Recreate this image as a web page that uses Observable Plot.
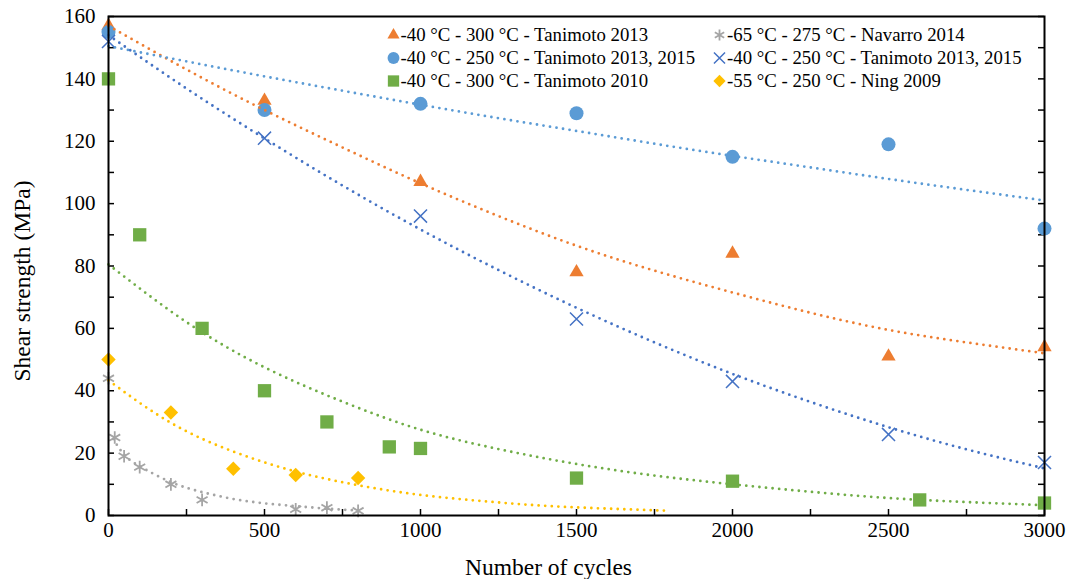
<!DOCTYPE html>
<html><head><meta charset="utf-8">
<script src="https://cdn.jsdelivr.net/npm/d3@7"></script>
<script src="https://cdn.jsdelivr.net/npm/@observablehq/plot@0.6"></script>
</head><body><div id="wrap"></div>
<script>
// ---- series definitions ----
const seriesNames = [
  "-40 °C - 300 °C - Tanimoto 2013",
  "-65 °C - 275 °C - Navarro 2014",
  "-40 °C - 250 °C - Tanimoto 2013, 2015",
  "-40 °C - 250 °C - Tanimoto 2013, 2015",
  "-40 °C - 300 °C - Tanimoto 2010",
  "-55 °C - 250 °C - Ning 2009"
];
const seriesColors = ["#ED7D31", "#A5A5A5", "#5B9BD5", "#4472C4", "#70AD47", "#FFC000"];
const seriesSymbols = ["triangle", "asterisk", "circle", "times", "square", "diamond2"];
const xTitle = "Number of cycles";
const yTitle = "Shear strength (MPa)";

// ---- data points ----
const triCycles = [0, 500, 1000, 1500, 2000, 2500, 3000];
const triStrength = [157, 133, 107, 78, 84, 51, 54];
const starCycles = [0, 20, 50, 100, 200, 300, 600, 700, 800];
const starStrength = [44, 25, 19, 15.5, 10, 5, 2, 2.5, 1.5];
const circCycles = [0, 500, 1000, 1500, 2000, 2500, 3000];
const circStrength = [155, 130, 132, 129, 115, 119, 92];
const crossCycles = [0, 500, 1000, 1500, 2000, 2500, 3000];
const crossStrength = [152, 121, 96, 63, 43, 26, 17];
const sqCycles = [0, 100, 300, 500, 700, 900, 1000, 1500, 2000, 2600, 3000];
const sqStrength = [140, 90, 60, 40, 30, 22, 21.5, 12, 11, 5, 4];
const diaCycles = [0, 200, 400, 600, 800];
const diaStrength = [50, 33, 15, 13, 12];

// ---- trend lines ----
const trendCyclesLong = [0, 250, 500, 750, 1000, 1250, 1500, 1750, 2000, 2250, 2500, 2750, 3000];
const triTrend = [157, 143, 130, 118, 106.5, 96, 86.5, 78.5, 71.5, 65, 59.5, 55.5, 52];
const circTrend = [150.5, 145.6, 140.8, 136.2, 131.7, 127.4, 123.3, 119.2, 115.3, 111.6, 107.9, 104.4, 101.0];
const crossTrend = [154, 136.9, 120.9, 105.8, 91.7, 78.7, 66.6, 55.5, 45.4, 36.4, 28.3, 21.2, 15.1];
const sqTrend = [80.5, 62, 47.5, 36.5, 27.5, 21.3, 16.5, 12.8, 10, 7.6, 5.6, 4.3, 3.3];
const diaTrendCycles = [0, 200, 400, 600, 800, 1000, 1200, 1400, 1600, 1800];
const diaTrend = [43.3, 29.7, 20.5, 14.1, 9.7, 6.6, 4.6, 3.1, 2.2, 1.5];
const starTrendCycles = [15, 50, 100, 200, 300, 400, 500, 600, 700, 800];
const starTrend = [24.5, 19.5, 15.8, 10.7, 7.5, 5.3, 3.9, 3.0, 2.2, 1.6];

// ---- axes ----
const xMajor = [0, 500, 1000, 1500, 2000, 2500, 3000];
const xMinor = d3.range(0, 3001, 250);
const yMajor = [0, 20, 40, 60, 80, 100, 120, 140, 160];
const yMinor = d3.range(0, 161, 10);

const pointSets = [
  [triCycles, triStrength], [starCycles, starStrength], [circCycles, circStrength],
  [crossCycles, crossStrength], [sqCycles, sqStrength], [diaCycles, diaStrength]
];
const trendSets = [
  [trendCyclesLong, triTrend], [starTrendCycles, starTrend], [trendCyclesLong, circTrend],
  [trendCyclesLong, crossTrend], [trendCyclesLong, sqTrend], [diaTrendCycles, diaTrend]
];
const zip = ([xs, ys]) => xs.map((x, i) => ({x, y: ys[i]}));

const symStyle = {
  triangle: {r: 5.3, filled: true},
  asterisk: {r: 6, filled: false, sw: 1.8},
  circle: {r: 7, filled: true},
  times: {r: 6, filled: false, sw: 1.5},
  square: {r: 7.5, filled: true},
  diamond2: {r: 6.5, filled: true}
};
const symFns = {triangle: d3.symbolTriangle, asterisk: d3.symbolAsterisk, circle: d3.symbolCircle,
                times: d3.symbolTimes, square: d3.symbolSquare, diamond2: d3.symbolDiamond2};

const plotW = 1073 - 108 - 29, plotH = 579 - 16 - 64;
const FONT = "Liberation Serif, Times New Roman, serif";

const marks = [
  Plot.tickX(xMinor, {x: d => d, insetTop: plotH - 6, stroke: "black", strokeWidth: 1.5}),
  Plot.tickY(yMinor, {y: d => d, insetRight: plotW - 6, stroke: "black", strokeWidth: 1.5}),
  Plot.tickY(yMinor, {y: d => d, insetLeft: plotW - 6, stroke: "black", strokeWidth: 1.5}),
  Plot.axisX({ticks: xMajor, tickSize: 0, tickPadding: 7, label: null, fontSize: 21, fontFamily: FONT, fill: "black", tickFormat: d3.format("d")}),
  Plot.axisY({ticks: yMajor, tickSize: 0, tickPadding: 13, label: null, fontSize: 21, fontFamily: FONT, fill: "black", tickFormat: d3.format("d")})
];
// markers
pointSets.forEach((ps, i) => {
  const s = seriesSymbols[i], st = symStyle[s];
  marks.push(Plot.dot(zip(ps), {
    x: "x", y: "y", symbol: symFns[s], r: st.r,
    fill: st.filled ? seriesColors[i] : "none",
    stroke: st.filled ? "none" : seriesColors[i],
    strokeWidth: st.sw || 1
  }));
});
// trend lines
trendSets.forEach((ts, i) => {
  marks.push(Plot.line(zip(ts), {
    x: "x", y: "y", stroke: seriesColors[i], strokeWidth: 2.8,
    strokeDasharray: "0 6.6", strokeLinecap: "round", curve: "natural"
  }));
});
marks.push(Plot.frame({stroke: "black", strokeWidth: 2}));
marks.push(Plot.text([xTitle], {frameAnchor: "bottom", dx: -28, dy: 59, fontSize: 23.5, fontFamily: FONT, fill: "black"}));

const chart = Plot.plot({
  width: 1073, height: 579,
  marginLeft: 108, marginRight: 29, marginTop: 16, marginBottom: 64,
  x: {domain: [0, 3000]},
  y: {domain: [0, 160]},
  marks
});
chart.setAttribute("font-family", FONT);
chart.style.display = "block";
document.body.style.margin = "0";
document.body.style.background = "white";
const wrap = document.getElementById("wrap");
Object.assign(wrap.style, {position: "relative", width: "1073px", height: "579px", overflow: "hidden",
  fontFamily: FONT, background: "white"});
wrap.appendChild(chart);

// ---- y axis title (rotated HTML text) ----
const yt = document.createElement("div");
yt.textContent = yTitle;
Object.assign(yt.style, {position: "absolute", left: (22 - 150) + "px", top: (281 - 15) + "px",
  width: "300px", height: "30px", lineHeight: "30px", textAlign: "center", fontSize: "23.5px",
  fontFamily: FONT, color: "black", transform: "rotate(-90deg)", whiteSpace: "nowrap"});
wrap.appendChild(yt);

// ---- legend ----
const colX = [385.5, 712];
const rowY = [24, 47, 70];
seriesNames.forEach((name, si) => {
  const col = si % 2, row = Math.floor(si / 2);
  const item = document.createElement("div");
  Object.assign(item.style, {position: "absolute", left: colX[col] + "px", top: rowY[row] + "px",
    display: "flex", alignItems: "center", height: "22px", fontSize: "18.8px", whiteSpace: "nowrap",
    color: "black", fontFamily: FONT});
  const s = seriesSymbols[si], st = symStyle[s];
  const lr = st.r * 0.85;
  const svg = d3.create("svg").attr("width", 15).attr("height", 16).attr("viewBox", "-7.5 -8 15 16");
  svg.append("path").attr("d", d3.symbol(symFns[s], lr * lr * Math.PI)())
    .attr("fill", st.filled ? seriesColors[si] : "none")
    .attr("stroke", st.filled ? "none" : seriesColors[si])
    .attr("stroke-width", st.sw || 1);
  svg.node().style.flex = "none";
  item.appendChild(svg.node());
  const span = document.createElement("span");
  span.textContent = name;
  item.appendChild(span);
  wrap.appendChild(item);
});
</script></body></html>
